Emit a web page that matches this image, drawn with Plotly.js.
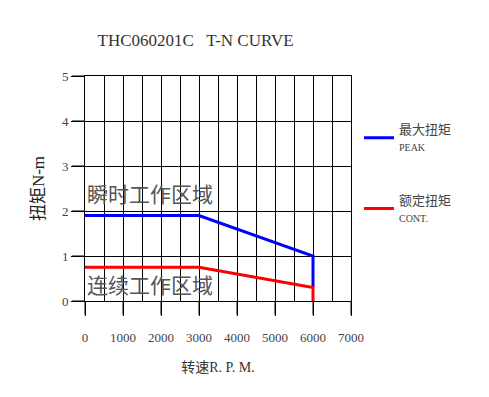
<!DOCTYPE html>
<html><head><meta charset="utf-8">
<script src="https://cdn.plot.ly/plotly-3.0.1.min.js"></script>
<style>body{margin:0;background:#fff}#c{width:489px;height:397px}</style>
</head><body><div id="c"></div>
<script>
const speed = [0, 3000, 6000, 6000];
const peakTorque = [1.9, 1.9, 1.0, 0.3];
const contTorque = [0.75, 0.75, 0.3, 0];
const xTicks = [0, 1000, 2000, 3000, 4000, 5000, 6000, 7000];
const yTicks = [0, 1, 2, 3, 4, 5];
const peakName = '最大扭矩<br><span style="font-size:10px">PEAK</span>';
const contName = '额定扭矩<br><span style="font-size:10px">CONT.</span>';
const zoneLabels = ['瞬时工作区域', '连续工作区域'];
const zoneY = [2.4, 0.38];

const X_MAX = 7000, Y_MAX = 5;
const serif = '"Liberation Serif", "Noto Sans CJK SC", serif';
const data = [
  {x: speed, y: peakTorque, mode: 'lines', name: peakName, line: {color: '#0000ff', width: 3}, legendgroup: 'a'},
  {x: speed, y: contTorque, mode: 'lines', name: contName, line: {color: '#ff0000', width: 3}, legendgroup: 'b'}
];
// outside tick marks (paper-referenced so they are never clipped)
const tickShapes = xTicks.map(v => ({type: 'line', xref: 'paper', yref: 'paper', x0: v / X_MAX, x1: v / X_MAX, y0: 0, y1: -0.062, line: {color: '#000', width: 1}}))
  .concat(yTicks.map(v => ({type: 'line', xref: 'paper', yref: 'paper', y0: v / Y_MAX, y1: v / Y_MAX, x0: 0, x1: -0.049, line: {color: '#000', width: 1}})));
const layout = {
  width: 489, height: 397,
  margin: {l: 85, r: 138, t: 76, b: 96},
  paper_bgcolor: '#fff', plot_bgcolor: '#fff',
  font: {family: serif, color: '#333', size: 13},
  title: {text: 'THC060201C   T-N CURVE', x: 0.40, xanchor: 'center', y: 0.9, yanchor: 'middle', font: {family: serif, size: 17, color: '#333'}},
  xaxis: {
    range: [0, X_MAX], tickmode: 'array', tickvals: xTicks, ticktext: xTicks.map(String),
    showgrid: true, gridcolor: '#000', gridwidth: 1,
    minor: {dtick: 500, showgrid: true, gridcolor: '#000', gridwidth: 1},
    ticks: 'outside', ticklen: 14, tickcolor: '#000', tickwidth: 1,
    showline: true, linecolor: '#000', mirror: true, zeroline: false,
    ticklabelstandoff: 10,
    tickfont: {family: serif, size: 13, color: '#444'},
    title: {text: '转速R. P. M.', font: {family: serif, size: 14, color: '#333'}, standoff: 18},
    fixedrange: true
  },
  yaxis: {
    range: [0, Y_MAX], tickmode: 'array', tickvals: yTicks,
    showgrid: true, gridcolor: '#000', gridwidth: 1,
    ticks: 'outside', ticklen: 13, tickcolor: '#000', tickwidth: 1,
    showline: true, linecolor: '#000', mirror: true, zeroline: false,
    tickfont: {family: serif, size: 13, color: '#444'},
    title: {text: '扭矩N-m', font: {family: serif, size: 17, color: '#222'}, standoff: 12},
    fixedrange: true
  },
  shapes: tickShapes,
  showlegend: true,
  legend: {x: 1.03, y: 0.83, xanchor: 'left', yanchor: 'top', tracegroupgap: 34,
    font: {family: serif, size: 13, color: '#444'}, bgcolor: 'rgba(0,0,0,0)', itemwidth: 30},
  annotations: zoneLabels.map((t, i) => ({
    x: 0, y: zoneY[i], xref: 'x', yref: 'y', text: t, showarrow: false,
    xanchor: 'left', yanchor: 'middle',
    font: {family: '"Noto Sans CJK SC", sans-serif', size: 21, color: '#555'}
  }))
};
Plotly.newPlot('c', data, layout, {displayModeBar: false, staticPlot: true});
</script></body></html>
